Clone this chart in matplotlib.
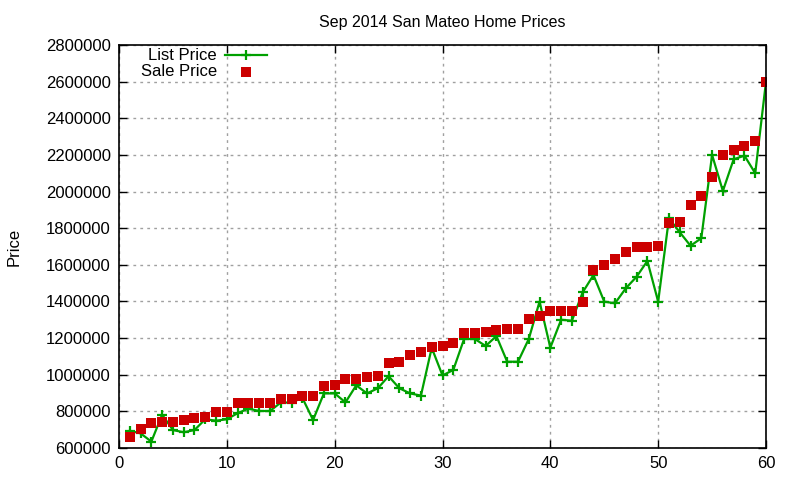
import matplotlib
matplotlib.use("Agg")
import matplotlib.pyplot as plt

# listing index (1..60)
idx = list(range(1, 61))

list_price = [
    694000, 680000, 635000, 782000, 698000, 686000, 698000, 757000, 749000, 757000,
    790000, 815000, 802000, 802000, 848000, 848000, 874000, 753000, 898000, 898000,
    849000, 942000, 898000, 926000, 992000, 926000, 898000, 886000, 1147000, 996000,
    1026000, 1195000, 1195000, 1157000, 1211000, 1071000, 1071000, 1195000, 1399000, 1148000,
    1300000, 1295000, 1450000, 1544000, 1399000, 1390000, 1472000, 1535000, 1621000, 1399000,
    1854000, 1778000, 1704000, 1745000, 2200000, 2003000, 2176000, 2196000, 2100000, 2600000,
]

sale_price = [
    662000, 704000, 738000, 744000, 744000, 753000, 766000, 771000, 797000, 797000,
    846000, 846000, 846000, 846000, 867000, 867000, 886000, 886000, 940000, 944000,
    977000, 977000, 989000, 994000, 1066000, 1069000, 1108000, 1126000, 1153000, 1158000,
    1175000, 1229000, 1229000, 1235000, 1246000, 1250000, 1250000, 1304000, 1322000, 1350000,
    1350000, 1350000, 1399000, 1572000, 1601000, 1633000, 1672000, 1699000, 1699000, 1704000,
    1827000, 1836000, 1928000, 1977000, 2081000, 2201000, 2228000, 2250000, 2277000, 2598000,
]

GREEN = "#00a000"
RED = "#cc0000"

plt.rcParams["font.family"] = ["Liberation Sans", "DejaVu Sans"]
plt.rcParams["font.size"] = 12

fig = plt.figure(figsize=(8, 4.8), dpi=100)
ax = fig.add_axes([119 / 800, 1 - 448 / 480, (766 - 119) / 800, (448 - 45) / 480])

list_style = dict(color=GREEN, lw=1.6, marker="+", ms=7.5, mew=1.6)
sale_style = dict(ls="none", color=RED, marker="s", ms=6.5, mew=0)

ax.plot(idx, list_price, **list_style)
ax.plot(idx, sale_price, **sale_style)

ax.set_xlim(0, 60)
ax.set_ylim(600000, 2800000)
ax.set_xticks(range(0, 61, 10))
ax.set_yticks(range(600000, 2800001, 200000))
ax.ticklabel_format(style="plain", axis="y", useOffset=False)
ax.tick_params(direction="in", top=True, right=True, length=6, width=1,
               labelsize=12, colors="black", pad=6)
ax.grid(True, color="#a0a0a0", ls=(0, (2, 3)), lw=1)
for s in ax.spines.values():
    s.set_linewidth(1.2)

ax.set_title("Sep 2014 San Mateo Home Prices", fontsize=11.5, pad=13)
ax.set_ylabel("Price", fontsize=12, labelpad=17)

# gnuplot-style key: right-aligned text, sample to the right
tf = fig.transFigure
fig.text(217 / 800, 1 - 55 / 480, "List Price", ha="right", va="center", fontsize=12)
fig.text(217 / 800, 1 - 72 / 480, "Sale Price", ha="right", va="center", fontsize=12)
ax.plot([225 / 800, 267 / 800], [1 - 55 / 480] * 2, color=GREEN, lw=1.6,
        transform=tf, clip_on=False)
ax.plot([246 / 800], [1 - 55 / 480], transform=tf, clip_on=False, **list_style)
ax.plot([246 / 800], [1 - 72 / 480], transform=tf, clip_on=False, **sale_style)

fig.savefig("out.png", dpi=100)
